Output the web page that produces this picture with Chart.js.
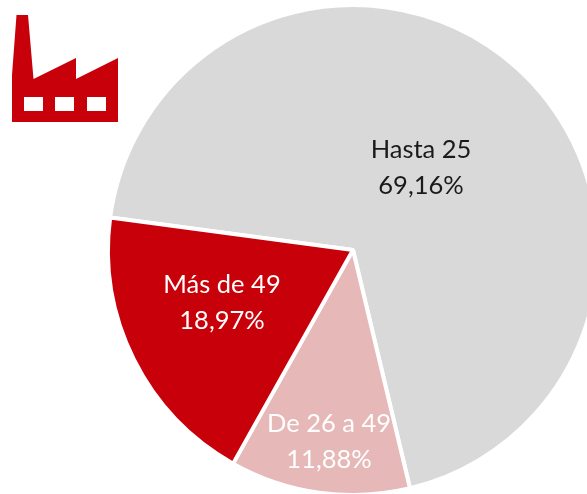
<!DOCTYPE html>
<html lang="es">
<head>
<meta charset="utf-8">
<style>
html,body{margin:0;padding:0;background:#fff;width:587px;height:494px;overflow:hidden}
#wrap{position:absolute;left:0;top:0;width:587px;height:494px;overflow:hidden}
canvas{position:absolute;left:0;top:0}
svg{position:absolute;left:0;top:0}
</style>
</head>
<body>
<div id="wrap">
<canvas id="c" width="706" height="500" style="width:706px;height:500px"></canvas>
<svg width="140" height="140" viewBox="0 0 140 140">
<path fill="#c8000a" fill-rule="evenodd" d="M16.5 15H28L33.5 79L76 58V79L118 58V122H12V75Z M24 97V111H43V97Z M55 97V111H74V97Z M87 97V111H106V97Z"/>
</svg>
</div>
<script src="https://cdn.jsdelivr.net/npm/chart.js@4"></script>
<script>
const categories = ["Hasta 25", "De 26 a 49", "Más de 49"];
const percentLabels = ["69,16%", "11,88%", "18,97%"];
const values = [69.16, 11.88, 18.97];
const sliceColors = ["#d9d9d9", "#e6b8b7", "#c8000a"];
const textColors = ["#1a1a1a", "#ffffff", "#ffffff"];
const labelOffsets = [[68, -82], [-24, 192], [-131, 53]];

const sliceLabels = {
  id: "sliceLabels",
  afterDatasetsDraw(chart) {
    const ctx = chart.ctx;
    const arcs = chart.getDatasetMeta(0).data;
    ctx.save();
    ctx.font = "25.5px Lato";
    ctx.textAlign = "center";
    ctx.textBaseline = "middle";
    arcs.forEach((arc, i) => {
      const x = arc.x + labelOffsets[i][0];
      const y = arc.y + labelOffsets[i][1];
      ctx.fillStyle = textColors[i];
      ctx.fillText(categories[i], x, y - 18);
      ctx.fillText(percentLabels[i], x, y + 18);
    });
    ctx.restore();
  }
};

new Chart(document.getElementById("c"), {
  type: "pie",
  data: {
    labels: categories,
    datasets: [{
      data: values,
      backgroundColor: sliceColors,
      borderColor: "#ffffff",
      borderWidth: 4,
      borderAlign: "center"
    }]
  },
  options: {
    responsive: false,
    animation: false,
    rotation: 277.6,
    layout: { padding: 3 },
    plugins: { legend: { display: false }, tooltip: { enabled: false } }
  },
  plugins: [sliceLabels]
});
</script>
</body>
</html>
